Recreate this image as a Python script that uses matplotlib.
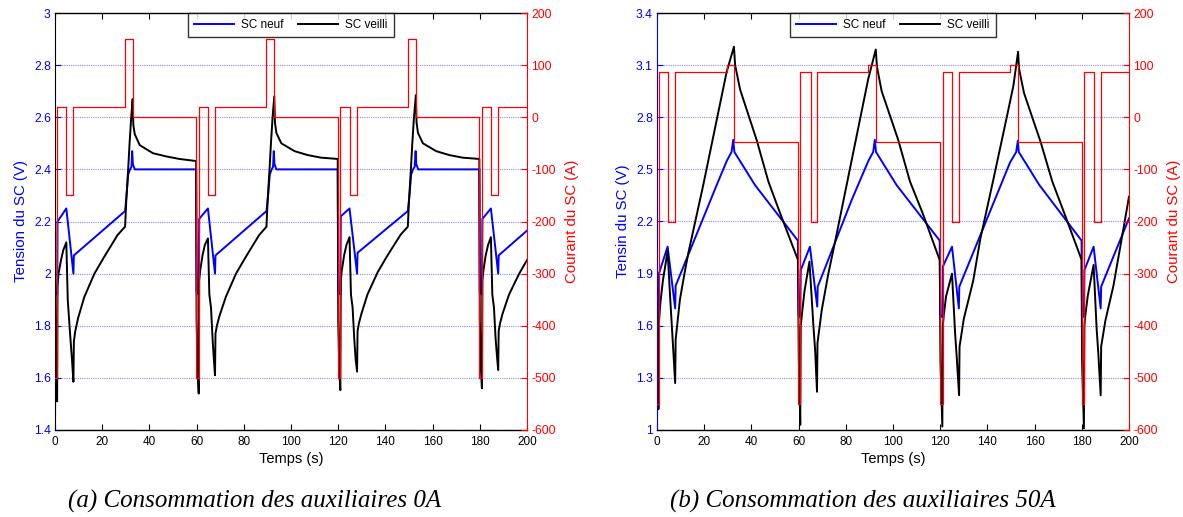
import matplotlib
matplotlib.use("Agg")
import matplotlib.pyplot as plt

plt.rcParams['font.family'] = ['Liberation Sans', 'DejaVu Sans']
plt.rcParams['axes.unicode_minus'] = False

# ---------------- data: panel (a) auxiliaires 0A ----------------
tI_a = [0, 1.0, 4.8, 7.8, 29.7, 32.9, 59.8, 60.9, 64.8, 67.8, 89.6, 92.9,
        119.8, 120.9, 124.8, 128.0, 149.5, 152.9, 179.8, 180.9, 184.7, 187.8, 200]
I_a = [-500, 20, -150, 20, 150, 0, -500, 20, -150, 20, 150, 0,
       -500, 20, -150, 20, 150, 0, -500, 20, -150, 20, 20]

t_neuf_a = [0.0, 0.2, 0.95, 1.05, 4.8, 7.8, 8.0, 29.7, 30.3, 31.0, 31.8, 32.4, 32.7, 33.0, 33.8, 59.8,
            60.0, 60.9, 61.1, 64.8, 67.8, 68.0, 89.6, 90.3, 91.0, 91.8, 92.4, 92.7, 93.0, 93.8, 119.8,
            120.0, 120.9, 121.1, 124.8, 128.0, 128.2, 149.5, 150.2, 150.9, 151.7, 152.4, 152.8, 153.1, 153.9, 179.8,
            180.0, 180.9, 181.1, 184.7, 187.8, 188.0, 200.0]
V_neuf_a = [1.40, 1.93, 1.92, 2.20, 2.25, 2.00, 2.07, 2.24, 2.30, 2.38, 2.40, 2.41, 2.47, 2.42, 2.40, 2.40,
            1.93, 1.92, 2.21, 2.25, 2.00, 2.07, 2.24, 2.30, 2.38, 2.40, 2.41, 2.47, 2.42, 2.40, 2.40,
            1.93, 1.92, 2.22, 2.25, 2.00, 2.08, 2.24, 2.30, 2.38, 2.40, 2.41, 2.47, 2.42, 2.40, 2.40,
            1.93, 1.92, 2.21, 2.25, 2.00, 2.07, 2.165]

t_vieil_a = [0.0, 0.4, 0.9, 1.05, 1.5, 2.5, 3.5, 4.8, 5.4, 6.3, 7.2, 7.8, 8.0, 8.6, 9.8, 12.4, 16.7, 20.9,
             26.5, 29.7, 30.2, 31.0, 31.6, 32.3, 32.9, 33.2, 33.8, 35.9, 41.5, 47.0, 52.7, 59.8,
             60.0, 60.5, 60.9, 61.1, 61.5, 62.5, 63.5, 64.8, 65.4, 66.1, 66.8, 67.4, 67.8, 68.0, 68.6, 69.6,
             72.4, 76.7, 80.9, 86.5, 89.6, 90.1, 90.9, 91.5, 92.2, 92.9, 93.2, 93.8, 95.9, 101.5, 107.0,
             112.7, 119.8,
             120.0, 120.5, 120.9, 121.1, 121.5, 122.5, 123.5, 124.8, 125.4, 126.1, 126.8, 127.4, 128.0,
             128.2, 128.8, 129.8, 132.4, 136.7, 140.9, 146.5, 149.5, 150.0, 150.8, 151.4, 152.1, 152.9,
             153.2, 153.8, 155.9, 161.5, 167.0, 172.7, 179.8,
             180.0, 180.5, 180.9, 181.1, 181.5, 182.5, 183.5, 184.7, 185.3, 186.0, 186.7, 187.3, 187.8,
             188.0, 188.6, 189.6, 192.4, 196.7, 200.0]
V_vieil_a = [1.90, 1.62, 1.51, 1.95, 2.00, 2.05, 2.09, 2.12, 1.90, 1.78, 1.67, 1.585, 1.74, 1.78, 1.83, 1.91,
             2.00, 2.065, 2.148, 2.18, 2.28, 2.40, 2.50, 2.60, 2.67, 2.57, 2.535, 2.493, 2.462, 2.45, 2.44,
             2.432,
             1.82, 1.62, 1.54, 1.975, 2.01, 2.07, 2.11, 2.135, 1.92, 1.87, 1.745, 1.66, 1.61, 1.77, 1.80,
             1.835, 1.911, 2.00, 2.065, 2.148, 2.18, 2.28, 2.40, 2.50, 2.60, 2.68, 2.58, 2.54, 2.50, 2.47,
             2.455, 2.445, 2.44,
             1.82, 1.62, 1.553, 1.975, 2.01, 2.07, 2.11, 2.14, 1.92, 1.87, 1.75, 1.67, 1.624,
             1.78, 1.81, 1.845, 1.92, 2.005, 2.07, 2.15, 2.18, 2.28, 2.40, 2.50, 2.60, 2.685,
             2.58, 2.54, 2.50, 2.47, 2.455, 2.445, 2.44,
             1.82, 1.63, 1.56, 1.975, 2.01, 2.07, 2.11, 2.14, 1.92, 1.87, 1.75, 1.68, 1.63,
             1.78, 1.81, 1.845, 1.92, 2.00, 2.052]

# ---------------- data: panel (b) auxiliaires 50A ----------------
tI_b = [0, 0.7, 4.5, 7.8, 29.6, 32.7, 59.7, 60.8, 65.1, 68.0, 89.6, 92.8,
        119.9, 121.0, 125.1, 128.0, 149.6, 153.0, 180.0, 181.0, 185.2, 188.1, 200]
I_b = [-550, 87, -200, 87, 100, -48, -550, 87, -200, 87, 100, -48,
       -550, 87, -200, 87, 100, -48, -550, 87, -200, 87, 87]

t_neuf_b = [0.0, 0.3, 0.6, 0.8, 4.5, 7.7, 7.9, 25.3, 29.6, 31.6, 32.3, 32.8, 41.5, 59.7,
            60.0, 60.7, 60.9, 64.8, 67.9, 68.1, 82.5, 89.6, 91.6, 92.3, 92.8, 101.5, 119.8,
            120.0, 120.9, 121.1, 125.0, 127.9, 128.1, 149.6, 152.2, 152.9, 153.3, 162.0, 179.9,
            180.1, 180.9, 181.1, 185.0, 188.0, 188.2, 200.0]
V_neuf_b = [1.02, 1.66, 1.65, 1.90, 2.055, 1.70, 1.83, 2.41, 2.55, 2.60, 2.67, 2.60, 2.41, 2.09,
            1.66, 1.65, 1.92, 2.055, 1.71, 1.825, 2.324, 2.55, 2.60, 2.67, 2.60, 2.41, 2.09,
            1.66, 1.65, 1.94, 2.055, 1.70, 1.825, 2.54, 2.60, 2.665, 2.60, 2.41, 2.09,
            1.66, 1.65, 1.92, 2.055, 1.70, 1.825, 2.218]

t_vieil_b = [0.0, 0.3, 0.6, 0.8, 1.5, 2.5, 4.5, 5.5, 6.5, 7.7, 7.9, 9.7, 11.9, 13.3, 19.6, 29.5, 32.6,
             33.1, 35.2, 42.2, 47.2, 52.1, 59.7,
             60.1, 60.7, 60.9, 61.3, 62.5, 64.6, 66.3, 67.0, 67.8, 68.0, 69.8, 72.6, 75.4, 79.6, 89.5,
             92.7, 93.2, 95.2, 102.2, 107.2, 112.5, 119.8,
             120.1, 120.9, 121.1, 121.5, 122.5, 125.0, 126.3, 127.0, 128.0, 128.2, 130.0, 134.0, 137.0,
             142.5, 148.2, 151.0, 153.0, 153.4, 155.5, 162.5, 167.5, 172.8, 179.9,
             180.1, 180.9, 181.1, 181.5, 182.5, 185.0, 186.3, 187.0, 188.0, 188.2, 190.0, 193.4, 196.5,
             200.0]
V_vieil_b = [1.90, 1.30, 1.12, 1.62, 1.74, 1.86, 2.03, 1.78, 1.55, 1.27, 1.52, 1.75, 1.92, 2.02, 2.41,
             3.06, 3.206, 3.10, 2.96, 2.67, 2.43, 2.25, 1.98,
             1.40, 1.03, 1.60, 1.652, 1.80, 1.969, 1.594, 1.46, 1.22, 1.50, 1.69, 1.90, 2.08, 2.36, 3.02,
             3.19, 3.09, 2.95, 2.67, 2.43, 2.25, 1.978,
             1.40, 1.02, 1.60, 1.66, 1.77, 1.90, 1.56, 1.42, 1.20, 1.48, 1.64, 1.86, 2.10,
             2.44, 2.80, 2.98, 3.177, 3.08, 2.94, 2.66, 2.43, 2.24, 1.98,
             1.40, 1.01, 1.60, 1.66, 1.77, 1.95, 1.58, 1.44, 1.20, 1.48, 1.63, 1.83, 2.07,
             2.343]

xticks = [0, 20, 40, 60, 80, 100, 120, 140, 160, 180, 200]
yticks_a = [1.4, 1.6, 1.8, 2.0, 2.2, 2.4, 2.6, 2.8, 3.0]
yticklabels_a = ['1.4', '1.6', '1.8', '2', '2.2', '2.4', '2.6', '2.8', '3']
yticks_b = [1.0, 1.3, 1.6, 1.9, 2.2, 2.5, 2.8, 3.1, 3.4]
yticklabels_b = ['1', '1.3', '1.6', '1.9', '2.2', '2.5', '2.8', '3.1', '3.4']
iticks = [-600, -500, -400, -300, -200, -100, 0, 100, 200]

BLUE = '#0000ff'
RED = '#ff0000'

W, H = 1183, 517
fig = plt.figure(figsize=(W / 100, H / 100), dpi=100)


def panel(x0px, t_neuf, v_neuf, t_vieil, v_vieil, tI, I, yticks, yticklabels, ylabel,
          left_spine_color, caption, cap_x):
    ax = fig.add_axes([x0px / W, 1 - 430 / H, 472 / W, 417 / H])
    ax2 = ax.twinx()
    l1, = ax.plot(t_neuf, v_neuf, color=BLUE, lw=1.4)
    l2, = ax.plot(t_vieil, v_vieil, color='black', lw=1.4)
    ax2.step(tI, I, where='post', color=RED, lw=0.9)

    ax.set_xlim(0, 200)
    ax.set_ylim(yticks[0], yticks[-1])
    ax2.set_ylim(-600, 200)
    ax.set_xticks(xticks)
    ax.set_yticks(yticks)
    ax.set_yticklabels(yticklabels)
    ax2.set_yticks(iticks)
    ax2.set_yticklabels([str(v) for v in iticks])

    ax.yaxis.grid(True, color=(0.55, 0.55, 1.0), linestyle=(0, (1, 1)), linewidth=0.8)
    ax.set_axisbelow(True)

    ax.tick_params(axis='x', direction='in', top=True, length=4, labelsize=8.5, pad=4, colors='black')
    ax.tick_params(axis='y', direction='in', length=4, labelsize=8.8, colors=BLUE, pad=3)
    ax2.tick_params(axis='y', direction='in', length=4, labelsize=8.8, colors=RED, pad=3)

    for s in ['top', 'bottom']:
        ax.spines[s].set_color('black')
        ax.spines[s].set_linewidth(1.0)
    ax.spines['left'].set_color(left_spine_color)
    ax.spines['right'].set_visible(False)
    for s in ['top', 'bottom', 'left']:
        ax2.spines[s].set_visible(False)
    ax2.spines['right'].set_color(RED)

    ax.set_xlabel('Temps (s)', fontsize=10.5, labelpad=3)
    ax.set_ylabel(ylabel, fontsize=10.8, color=BLUE, labelpad=4)
    ax2.set_ylabel('Courant du SC (A)', fontsize=10.8, color=RED, labelpad=7)

    leg = ax2.legend([l1, l2], ['SC neuf', 'SC veilli'], loc='upper center', ncol=2,
                     fontsize=8.5, frameon=True, fancybox=False, borderaxespad=0,
                     handlelength=3.4, columnspacing=1.2, handletextpad=0.6,
                     borderpad=0.5)
    leg.get_frame().set_edgecolor('black')
    leg.get_frame().set_linewidth(1.0)

    fig.text(cap_x / W, 1 - 501 / H, caption, ha='center', va='center',
             fontsize=18, fontstyle='italic', family='Liberation Serif')


panel(55, t_neuf_a, V_neuf_a, t_vieil_a, V_vieil_a, tI_a, I_a, yticks_a, yticklabels_a,
      'Tension du SC (V)', 'black', '(a) Consommation des auxiliaires 0A', 255)
panel(657, t_neuf_b, V_neuf_b, t_vieil_b, V_vieil_b, tI_b, I_b, yticks_b, yticklabels_b,
      'Tensin du SC (V)', BLUE, '(b) Consommation des auxiliaires 50A', 863)

fig.savefig('out.png', dpi=100)
